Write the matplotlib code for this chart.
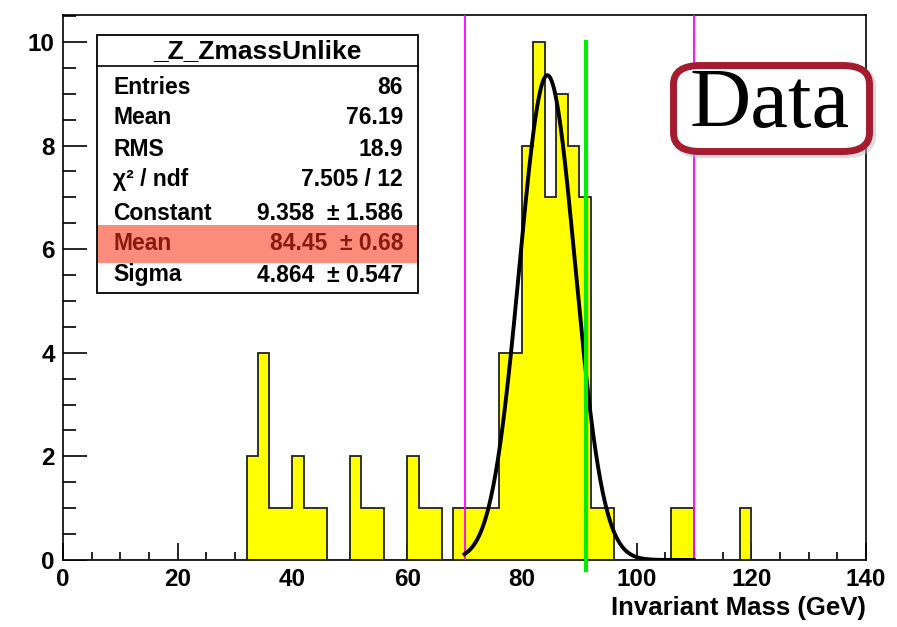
import numpy as np
import matplotlib
matplotlib.use("Agg")
import matplotlib.pyplot as plt
from matplotlib.patches import Rectangle, FancyBboxPatch
from matplotlib.ticker import MultipleLocator

# histogram contents, 2 GeV bins
bin_edges = np.arange(0, 142, 2)
bin_lows = [32, 34, 36, 38, 40, 42, 44, 50, 52, 54, 60, 62, 64, 68, 70, 72, 74,
            76, 78, 80, 82, 84, 86, 88, 90, 92, 94, 106, 108, 118]
bin_counts = [2, 4, 1, 1, 2, 1, 1, 2, 1, 1, 2, 1, 1, 1, 1, 1, 1,
              4, 4, 8, 10, 7, 9, 8, 7, 1, 1, 1, 1, 1]

# gaussian fit shown in the stats box
fit_const, fit_mean, fit_sigma = 9.358, 84.45, 4.864
fit_range = (70, 110)
z_mass = 91.19

stat_labels = ["Entries", "Mean", "RMS", "χ² / ndf", "Constant", "Mean", "Sigma"]
stat_values = ["86", "76.19", "18.9", "7.505 / 12", "9.358  ± 1.586",
               "84.45  ± 0.68", "4.864  ± 0.547"]

counts = np.zeros(len(bin_edges) - 1)
for lo, c in zip(bin_lows, bin_counts):
    counts[lo // 2] = c

plt.rcParams['font.family'] = ['Liberation Sans', 'DejaVu Sans']
plt.rcParams['font.weight'] = 'bold'

W, H = 897, 627
fig = plt.figure(figsize=(W / 100, H / 100), dpi=100)
ax = fig.add_axes([63 / W, 1 - 560 / H, (866 - 63) / W, (560 - 15) / H])

ax.stairs(counts, bin_edges, fill=True, color='#ffff00', zorder=2)
ax.stairs(counts, bin_edges, color='#222222', lw=1.3, zorder=3)

xf = np.linspace(fit_range[0], fit_range[1], 400)
yf = fit_const * np.exp(-0.5 * ((xf - fit_mean) / fit_sigma) ** 2)
ax.plot(xf, yf, color='black', lw=2.8, zorder=5)

for xv in fit_range:
    ax.axvline(xv, color='#ff00ff', lw=1.3, zorder=4)
ax.plot([z_mass, z_mass], [-0.2, 10], color='#00ee00', lw=3, zorder=6, clip_on=False)

ax.set_xlim(0, 140)
ax.set_ylim(0, 10.52)
ax.xaxis.set_major_locator(MultipleLocator(20))
ax.xaxis.set_minor_locator(MultipleLocator(5))
ax.yaxis.set_major_locator(MultipleLocator(2))
ax.yaxis.set_minor_locator(MultipleLocator(0.5))
ax.tick_params(axis='x', which='major', direction='in', length=12, width=1.2,
               labelsize=17.5, pad=6, top=False)
ax.tick_params(axis='x', which='minor', direction='in', length=6, width=1.2, top=False)
ax.tick_params(axis='y', which='major', direction='in', length=17, width=1.2,
               labelsize=17.5, pad=6, right=False)
ax.tick_params(axis='y', which='minor', direction='in', length=9, width=1.2, right=False)
for sp in ax.spines.values():
    sp.set_linewidth(1.2)
ax.set_xlabel("Invariant Mass (GeV)", fontsize=18.5, fontweight='bold')
ax.xaxis.set_label_coords(1.0, -0.088)
ax.xaxis.label.set_ha('right')
ax.xaxis.label.set_va('center')


def fx(x):
    return x / W


def fy(y):
    return 1 - y / H


# stats box
fig.patches.append(Rectangle((fx(97), fy(293)), fx(418) - fx(97), fy(35) - fy(293),
                             transform=fig.transFigure, fc='white', ec='black',
                             lw=1.3, zorder=10))
fig.lines.append(plt.Line2D([fx(97), fx(418)], [fy(66), fy(66)],
                            transform=fig.transFigure, color='black', lw=1.2, zorder=11))
fig.patches.append(Rectangle((fx(98), fy(263)), fx(417) - fx(98), fy(225) - fy(263),
                             transform=fig.transFigure, fc='#fb8c7c', ec='none', zorder=11))
fig.text(fx(257), fy(51), "_Z_ZmassUnlike", fontsize=19, ha='center', va='center',
         zorder=12)
row_y = [87, 118, 149, 180, 213, 244, 275]
for i, (lab, val, yy) in enumerate(zip(stat_labels, stat_values, row_y)):
    col = '#8b1a0e' if i == 5 else 'black'
    fig.text(fx(113), fy(yy), lab, fontsize=16.5, ha='left', va='center', color=col, zorder=12)
    fig.text(fx(403), fy(yy), val, fontsize=16.5, ha='right', va='center', color=col, zorder=12)

# "Data" label
fig.patches.append(FancyBboxPatch((fx(676), fy(154)), fx(872) - fx(676), fy(68) - fy(154),
                                  boxstyle="round,pad=0,rounding_size=0.03",
                                  transform=fig.transFigure, fc='#bbbbbb', ec='#bbbbbb',
                                  lw=6, alpha=0.5, zorder=12))
fig.patches.append(FancyBboxPatch((fx(673.5), fy(151.5)), fx(869.5) - fx(673.5), fy(65.5) - fy(151.5),
                                  boxstyle="round,pad=0,rounding_size=0.03",
                                  transform=fig.transFigure, fc='white', ec='#a51c30',
                                  lw=5, zorder=13))
fig.text(fx(770), fy(107), "Data", fontsize=61, family='Liberation Serif',
         fontweight='normal', ha='center', va='center', zorder=14)

fig.savefig("out.png", dpi=100)
